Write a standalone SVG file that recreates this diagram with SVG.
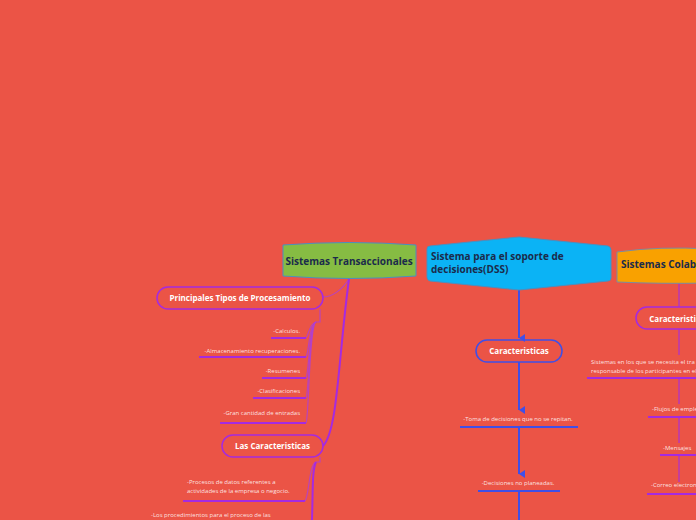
<svg xmlns="http://www.w3.org/2000/svg" width="696" height="520" viewBox="0 0 696 520">
<defs>
<marker id="arr" viewBox="0 0 8 6" refX="4" refY="6" markerWidth="8" markerHeight="6" markerUnits="userSpaceOnUse" orient="auto-start-reverse">
<path d="M0,0 L8,0 L4,6 Z" fill="#3F4FE8"/>
</marker>
<style>
.title{font-family:"Open Sans","Noto Sans","Liberation Sans",sans-serif;font-weight:bold;fill:#1B2B4B}
.sub{font-family:"Open Sans","Noto Sans","Liberation Sans",sans-serif;font-weight:bold;fill:#FFFFFF;font-size:8px}
.leaf{font-family:"Open Sans","Noto Sans","Liberation Sans",sans-serif;fill:#FFFFFF;fill-opacity:0.85;font-size:6px}
.pill{fill:none;stroke:#A52AE0;stroke-width:1.5}
.pillB{fill:none;stroke:#3F4FE8;stroke-width:1.5}
.ul{stroke:#A52AE0;stroke-width:2;fill:none}
.ulB{stroke:#3F4FE8;stroke-width:2;fill:none}
.thick{stroke:#A52AE0;stroke-width:2;fill:none}
.thin{stroke:#B040D0;stroke-width:1.2;fill:none;stroke-opacity:0.85}
.blue{stroke:#3F4FE8;stroke-width:2;fill:none}
.mag{stroke:#A52AE0;stroke-width:2;fill:none;stroke-opacity:0.55}
</style>
</defs>
<rect width="696" height="520" fill="#EB5446"/>

<g id="connectors">
<!-- Transaccionales -->
<path class="thin" d="M349,279 C342,290 332,297 323,297"/>
<path class="thick" d="M349,279 C338,360 338,430 323,446"/>
<path class="thin" d="M320,309 L320,322 L316,322"/>
<path class="thin" d="M316,322 C309,324 309,334 306,338"/>
<path class="thin" d="M316,322 C309,324 309,353 306,357"/>
<path class="thin" d="M316,322 C309,324 309,374 306,378"/>
<path class="thin" d="M316,322 C309,324 309,394 306,398"/>
<path class="thin" d="M316,322 C309,324 309,419 306,423"/>
<path class="thin" d="M320,457 L320,462 L316,462"/>
<path class="thin" d="M316,462 C309,464 309,497 305,501"/>
<path class="thick" d="M316,462 C312,470 313,490 312,520"/>
<!-- DSS -->
<path class="blue" d="M519,290 L519,338" marker-end="url(#arr)"/>
<path class="blue" d="M519,362 L519,410" marker-end="url(#arr)"/>
<path class="blue" d="M519,427 L519,474" marker-end="url(#arr)"/>
<path class="blue" d="M519,491 L519,520"/>
<!-- Colaborativos -->
<path class="mag" d="M679,283 L679,307"/>
<path class="mag" d="M679,329 L679,355"/>
<path class="mag" d="M679,378 L679,404"/>
<path class="mag" d="M679,417 L679,443"/>
<path class="mag" d="M679,455 L679,482"/>
</g>

<g id="n-transaccionales">
<path d="M283,245 Q349,240 416,245 L416,276 Q349,281 283,276 Z" fill="#86BC43" stroke="#4A8FC0" stroke-width="1"/>
<text class="title" x="349" y="265" font-size="10" text-anchor="middle">Sistemas Transaccionales</text>
</g>

<g id="n-dss">
<path d="M430,246 L519,237 L608,246 Q611,247 611,250 L611,278 Q611,281 608,281 L519,290 L430,281 Q427,280 427,277 L427,249 Q427,246 430,246 Z" fill="#0BB3F5" stroke="#4A8FC0" stroke-width="1"/>
<text class="title" x="431" y="260" font-size="10">Sistema para el soporte de</text>
<text class="title" x="431" y="273" font-size="10">decisiones(DSS)</text>
</g>

<g id="n-colab">
<path d="M617,252 Q660,246 710,249 L710,283 Q660,284 617,282 Z" fill="#F9A100" stroke="#7A8CA0" stroke-width="1"/>
<text class="title" x="621" y="268" font-size="10">Sistemas Colaborativos</text>
</g>

<g id="n-principales">
<rect class="pill" x="157" y="287" width="166" height="22" rx="11"/>
<text class="sub" x="240" y="301" text-anchor="middle" font-size="7.5">Principales Tipos de Procesamiento</text>
</g>
<g id="n-calculos">
<line class="ul" x1="271" y1="338" x2="306" y2="338"/>
<text class="leaf" x="300" y="333" text-anchor="end">-Calculos.</text>
</g>
<g id="n-almacenamiento">
<line class="ul" x1="199" y1="357" x2="306" y2="357"/>
<text class="leaf" x="300" y="353" text-anchor="end">-Almacenamiento recuperaciones.</text>
</g>
<g id="n-resumenes">
<line class="ul" x1="262" y1="378" x2="306" y2="378"/>
<text class="leaf" x="300" y="373" text-anchor="end">-Resumenes</text>
</g>
<g id="n-clasificaciones">
<line class="ul" x1="253" y1="398" x2="306" y2="398"/>
<text class="leaf" x="300" y="393" text-anchor="end">-Clasificaciones</text>
</g>
<g id="n-gran">
<line class="ul" x1="220" y1="423" x2="306" y2="423"/>
<text class="leaf" x="300" y="415" text-anchor="end">-Gran cantidad de entradas</text>
</g>

<g id="n-lascaracteristicas">
<rect class="pill" x="222" y="435" width="101" height="22" rx="11"/>
<text class="sub" x="272.5" y="449" text-anchor="middle">Las Caracteristicas</text>
</g>
<g id="n-procesos">
<line class="ul" x1="183" y1="501" x2="305" y2="501"/>
<text class="leaf" x="187" y="484">-Procesos de datos referentes a</text>
<text class="leaf" x="187" y="493">actividades de la empresa o negocio.</text>
</g>
<g id="n-procedimientos">
<text class="leaf" x="151" y="517">-Los procedimientos para el proceso de las</text>
</g>

<g id="n-dss-caracteristicas">
<rect class="pillB" x="476" y="340" width="86" height="22" rx="11"/>
<text class="sub" x="519" y="354" text-anchor="middle">Caracteristicas</text>
</g>
<g id="n-toma">
<line class="ulB" x1="460" y1="427" x2="578" y2="427"/>
<text class="leaf" x="518" y="421" text-anchor="middle">-Toma de decisiones que no se repitan.</text>
</g>
<g id="n-noplaneadas">
<line class="ulB" x1="478" y1="491" x2="560" y2="491"/>
<text class="leaf" x="518" y="485" text-anchor="middle">-Decisiones no planeadas.</text>
</g>

<g id="n-colab-caracteristicas">
<rect class="pill" x="636" y="307" width="86" height="22" rx="11"/>
<text class="sub" x="679" y="322" text-anchor="middle">Caracteristicas</text>
</g>
<g id="n-sistemasen">
<line class="ul" x1="587" y1="378" x2="771" y2="378"/>
<text class="leaf" x="591" y="364">Sistemas en los que se necesita el tra</text>
<text class="leaf" x="591" y="373">responsable de los participantes en el</text>
</g>
<g id="n-flujos">
<line class="ul" x1="648" y1="417" x2="710" y2="417"/>
<text class="leaf" x="652" y="411">-Flujos de emple</text>
</g>
<g id="n-mensajes">
<line class="ul" x1="660" y1="455" x2="698" y2="455"/>
<text class="leaf" x="663" y="450">-Mensajes</text>
</g>
<g id="n-correo">
<line class="ul" x1="647" y1="494" x2="711" y2="494"/>
<text class="leaf" x="651" y="487">-Correo electronico</text>
</g>
</svg>
